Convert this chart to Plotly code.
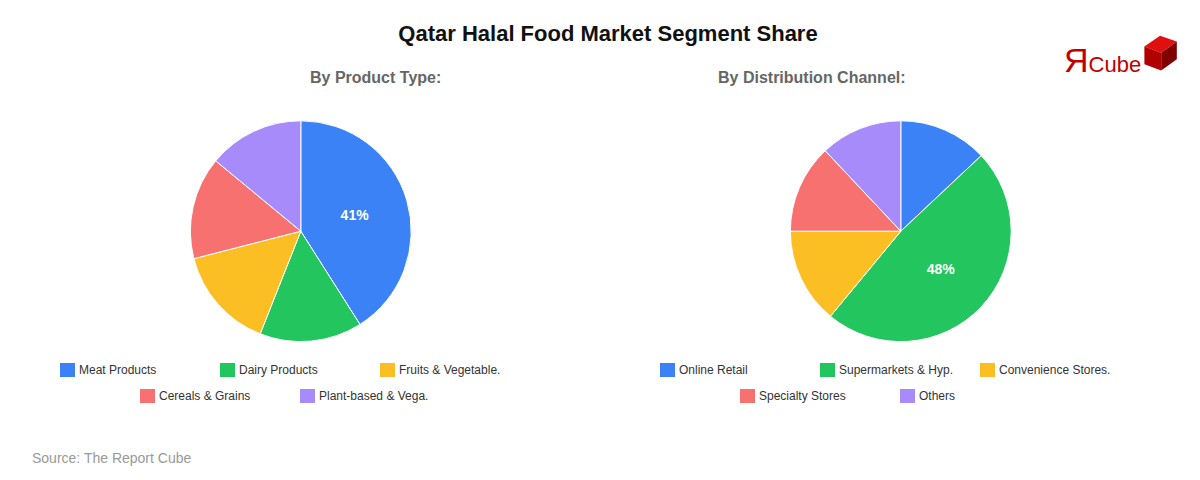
import plotly.graph_objects as go

product_labels = ["Meat Products", "Dairy Products", "Fruits & Vegetable.", "Cereals & Grains", "Plant-based & Vega."]
product_share = [41, 15, 15, 15, 14]

channel_labels = ["Online Retail", "Supermarkets & Hyp.", "Convenience Stores.", "Specialty Stores", "Others"]
channel_share = [13, 48, 14, 13, 12]

colors = ["#3b82f6", "#22c55e", "#fbbf24", "#f87171", "#a78bfa"]
font = "Liberation Sans, Arial, sans-serif"
W, H = 1200, 480


def top_text(vals):
    m = max(vals)
    return ["%{percent:.0%}" if v == m else "" for v in vals]


fig = go.Figure()
annotations = []
shapes = []
for labels, vals, dx, cx in [(product_labels, product_share, 0.152, 300),
                              (channel_labels, channel_share, 0.652, 900)]:
    fig.add_trace(go.Pie(
        labels=labels, values=vals, sort=False, direction="clockwise",
        marker=dict(colors=colors, line=dict(color="white", width=1)),
        texttemplate=top_text(vals), textposition="inside",
        textfont=dict(color="white", size=14, family=font, weight="bold"),
        domain=dict(x=[dx, dx + 0.184], y=[0.305, 0.765]),
        hoverinfo="label+percent", showlegend=False,
    ))
    # hand-built legend: 3 items on first row, 2 centred on second
    for i, (lab, c) in enumerate(zip(labels, colors)):
        if i < 3:
            x0, yc = cx - 248 + 160 * i, 362
        else:
            x0, yc = cx - 168 + 160 * (i - 3), 388
        shapes.append(dict(type="rect", xref="paper", yref="paper",
                           x0=x0 / W, x1=(x0 + 15) / W,
                           y0=1 - (yc + 7) / H, y1=1 - (yc - 7) / H,
                           fillcolor=c, line=dict(width=0)))
        annotations.append(dict(text=lab, x=(x0 + 17) / W, y=1 - yc / H, xref="paper", yref="paper",
                                xanchor="left", yanchor="middle", showarrow=False,
                                font=dict(size=12, color="#333")))

annotations += [
    dict(text="<b>By Product Type:</b>", x=0.25, y=0.877, xref="paper", yref="paper",
         showarrow=False, font=dict(size=16, color="#666")),
    dict(text="<b>By Distribution Channel:</b>", x=0.75, y=0.877, xref="paper", yref="paper",
         showarrow=False, font=dict(size=16, color="#666")),
    dict(text="Source: The Report Cube", x=0.018, y=0.042, xref="paper", yref="paper",
         xanchor="left", showarrow=False, font=dict(size=14, color="#999")),
    dict(text="<span style='font-size:34px'>Я</span>Cube", x=0.878, y=0.935, xref="paper", yref="paper",
         xanchor="left", showarrow=False, font=dict(size=22, color="#c00000")),
]
shapes += [
    dict(type="path", xref="paper", yref="paper",
         path="M 0.947 0.92 L 0.96 0.942 L 0.974 0.93 L 0.961 0.907 Z",
         fillcolor="#e01010", line=dict(width=0)),
    dict(type="path", xref="paper", yref="paper",
         path="M 0.947 0.92 L 0.961 0.907 L 0.961 0.87 L 0.947 0.883 Z",
         fillcolor="#b00000", line=dict(width=0)),
    dict(type="path", xref="paper", yref="paper",
         path="M 0.961 0.907 L 0.974 0.93 L 0.974 0.893 L 0.961 0.87 Z",
         fillcolor="#800000", line=dict(width=0)),
]

fig.update_layout(
    width=W, height=H, margin=dict(l=0, r=0, t=0, b=0),
    paper_bgcolor="white", plot_bgcolor="white",
    font=dict(family=font),
    title=dict(text="<b>Qatar Halal Food Market Segment Share</b>", x=0.5, y=0.947,
               xanchor="center", yanchor="middle", font=dict(size=22, color="#111")),
    annotations=annotations,
    shapes=shapes,
)

fig.write_html("out.html")
